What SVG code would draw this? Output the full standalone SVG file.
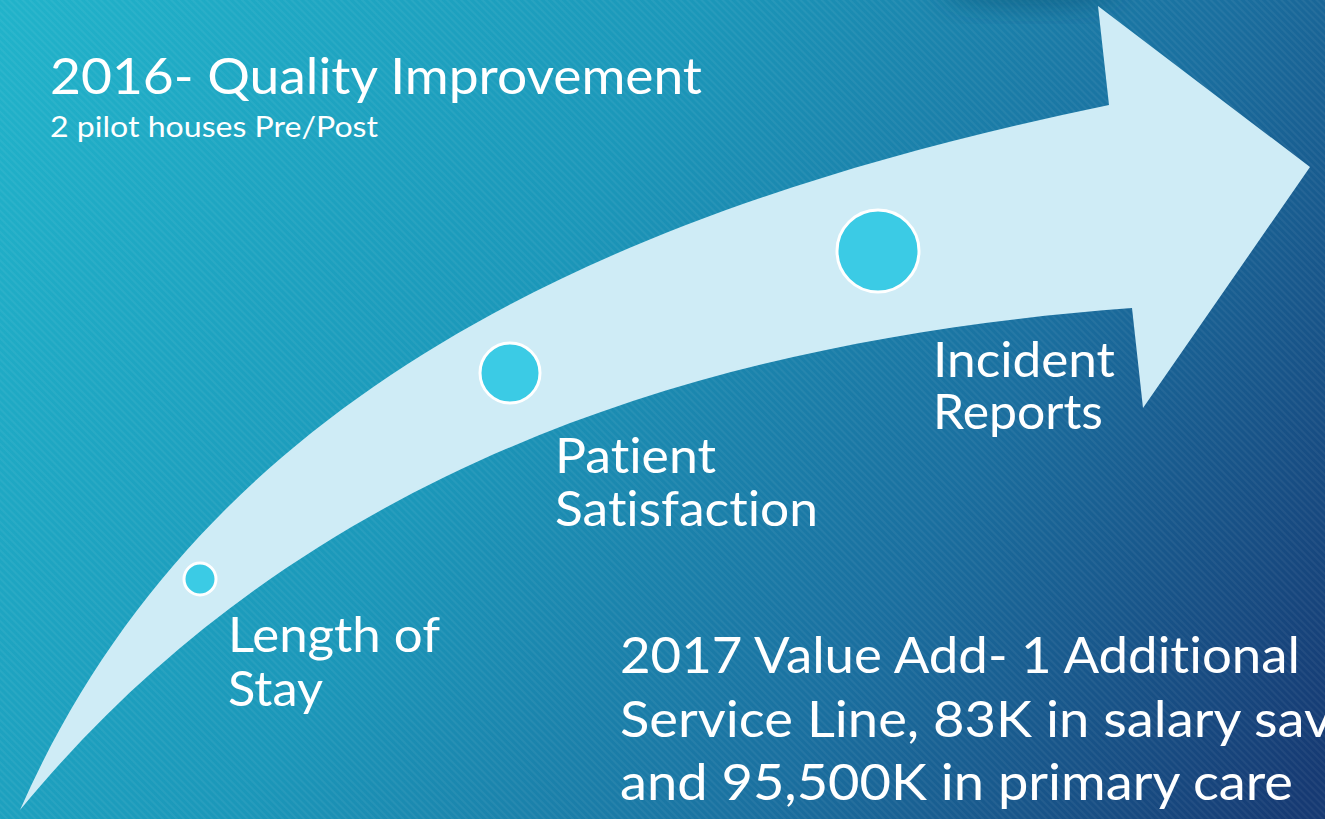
<svg xmlns="http://www.w3.org/2000/svg" width="1325" height="819" viewBox="0 0 1325 819">
  <defs>
    <linearGradient id="bg" gradientUnits="userSpaceOnUse" x1="0" y1="0" x2="1325" y2="760">
      <stop offset="0" stop-color="#21b3ca"/>
      <stop offset="0.4" stop-color="#1b97b9"/>
      <stop offset="0.7" stop-color="#1a6f9f"/>
      <stop offset="1" stop-color="#163a73"/>
    </linearGradient>
    <pattern id="stripes" patternUnits="userSpaceOnUse" width="5" height="5" patternTransform="rotate(-45)">
      <rect x="0" y="0" width="2" height="5" fill="#ffffff" fill-opacity="0.05"/>
    </pattern>
    <filter id="blur" x="-50%" y="-50%" width="200%" height="200%">
      <feGaussianBlur stdDeviation="12"/>
    </filter>
    <style>
      .arrow { fill: #cfecf6; }
      .dot { fill: #3bcbe5; stroke: #ffffff; stroke-width: 3; }
      .t { font-family: Lato, "Liberation Sans", sans-serif; fill: #ffffff; font-variant-ligatures: none; }
      .big { font-size: 50px; }
      .lbl { font-size: 48px; }
      .sub { font-size: 28px; }
    </style>
  </defs>

  <rect x="0" y="0" width="1325" height="819" fill="url(#bg)"/>
  <rect x="0" y="0" width="1325" height="819" fill="url(#stripes)"/>
  <ellipse cx="1030" cy="-8" rx="90" ry="16" fill="#0b3a5c" fill-opacity="0.35" filter="url(#blur)"/>

  <g id="connectors">
    <path class="arrow" d="M20,810 C200,400 600,210 1109,105 L1098,6 L1310,167 L1143,408 L1132,308 C700,340 300,470 20,810 Z"/>
  </g>

  <g id="title">
    <text class="t big" x="50" y="94" textLength="652" lengthAdjust="spacingAndGlyphs">2016- Quality Improvement</text>
    <text class="t sub" x="50" y="137" textLength="328" lengthAdjust="spacingAndGlyphs">2 pilot houses Pre/Post</text>
  </g>

  <g id="node-length-of-stay">
    <circle class="dot" cx="200" cy="579" r="16"/>
    <text class="t lbl" x="228" y="652" textLength="212" lengthAdjust="spacingAndGlyphs">Length of</text>
    <text class="t lbl" x="228" y="706" textLength="95" lengthAdjust="spacingAndGlyphs">Stay</text>
  </g>

  <g id="node-patient-satisfaction">
    <circle class="dot" cx="510" cy="373" r="30"/>
    <text class="t lbl" x="555" y="473" textLength="161" lengthAdjust="spacingAndGlyphs">Patient</text>
    <text class="t lbl" x="555" y="526" textLength="263" lengthAdjust="spacingAndGlyphs">Satisfaction</text>
  </g>

  <g id="node-incident-reports">
    <circle class="dot" cx="878" cy="251" r="41"/>
    <text class="t lbl" x="933" y="377" textLength="182" lengthAdjust="spacingAndGlyphs">Incident</text>
    <text class="t lbl" x="933" y="429" textLength="170" lengthAdjust="spacingAndGlyphs">Reports</text>
  </g>

  <g id="value-add">
    <text class="t big" x="620" y="673" textLength="680" lengthAdjust="spacingAndGlyphs">2017 Value Add- 1 Additional</text>
    <text class="t big" x="620" y="737" textLength="712" lengthAdjust="spacingAndGlyphs">Service Line, 83K in salary sav</text>
    <text class="t big" x="620" y="800" textLength="673" lengthAdjust="spacingAndGlyphs">and 95,500K in primary care</text>
  </g>
</svg>
